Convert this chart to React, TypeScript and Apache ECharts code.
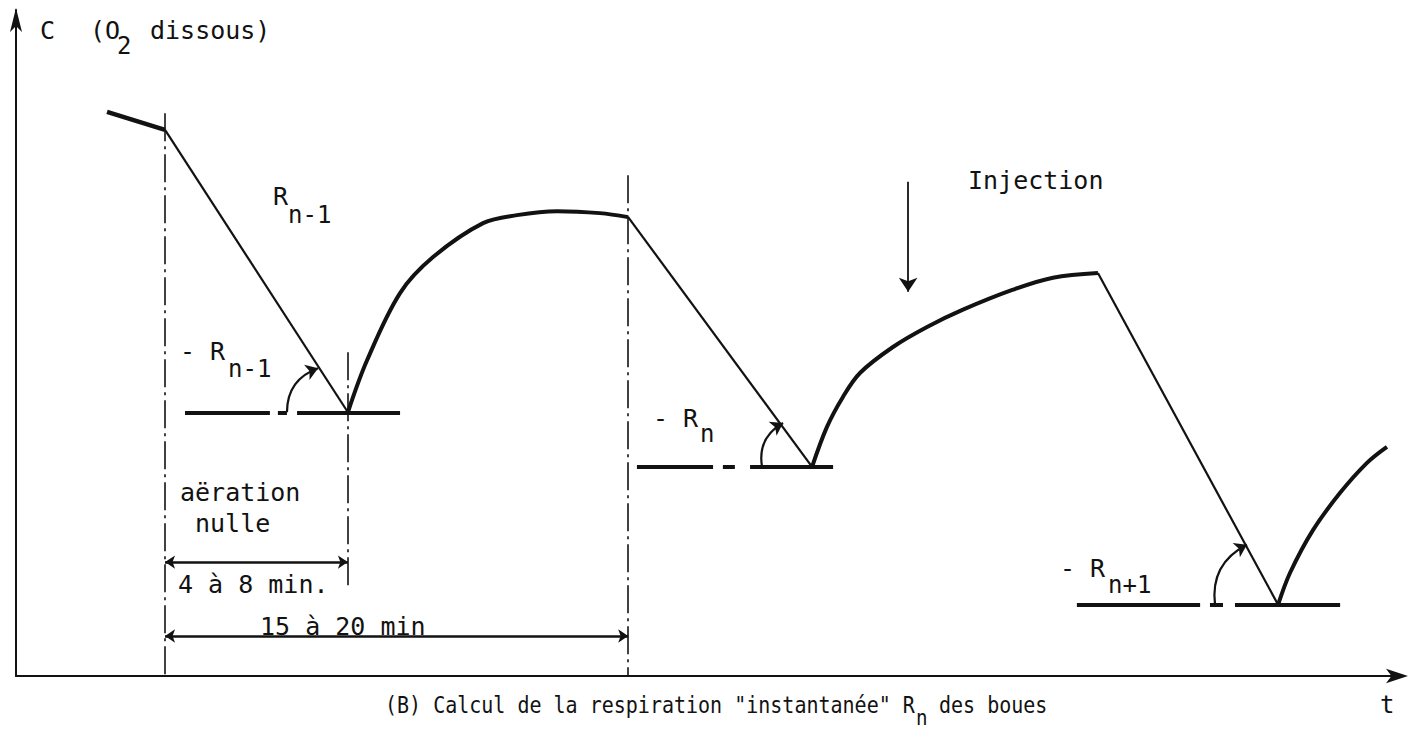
import React, { useEffect, useRef } from "react";
import * as echarts from "echarts";

// Axis ranges (t in minutes, C = dissolved O2)
const X_MAX = 52;
const Y_MAX = 10;

// Oxygen curve
const initialDecline = [[3.42, 8.47], [5.6, 8.2]];
const respirationDrops = [
  [[5.6, 8.2], [12.47, 3.96]],
  [[23.0, 6.89], [29.91, 3.14]],
  [[40.65, 6.05], [47.42, 1.07]],
];
const recovery1 = [
  [12.47, 3.96], [13.19, 4.74], [14.43, 5.75], [15.67, 6.29], [17.55, 6.8],
  [18.82, 6.92], [20.33, 6.98], [21.94, 6.95], [23.0, 6.89],
];
const recovery2 = [
  [29.91, 3.14], [30.47, 3.74], [31.07, 4.19], [31.71, 4.55], [32.95, 4.94],
  [34.23, 5.24], [35.58, 5.5], [37.46, 5.8], [38.96, 5.98], [40.65, 6.05],
];
const recovery3 = [
  [47.42, 1.07], [47.87, 1.55], [48.73, 2.19], [49.75, 2.75], [50.76, 3.2], [51.51, 3.44],
];

// Horizontal reference lines under each minimum
const slopeBaselines = [
  [[6.35, 3.96], [9.54, 3.96]], [[9.84, 3.96], [10.18, 3.96]], [[10.56, 3.96], [14.43, 3.96]],
  [[23.33, 3.14], [26.19, 3.14]], [[26.56, 3.14], [27.01, 3.14]], [[27.58, 3.14], [30.7, 3.14]],
  [[39.86, 1.07], [44.49, 1.07]], [[44.86, 1.07], [45.35, 1.07]], [[45.8, 1.07], [49.75, 1.07]],
];
// Angle arcs (slope marks)
const slopeArcs = [
  [[10.18, 3.96], [11.35, 4.62]],
  [[28.03, 3.14], [28.82, 3.8]],
  [[45.05, 1.07], [46.25, 1.97]],
];
// Dashed phase markers
const phaseMarkers = [
  [[5.6, 8.45], [5.6, 0]],
  [[12.47, 4.86], [12.47, 1.29]],
  [[23.0, 7.52], [23.0, 0]],
];
// Duration arrows
const durationArrows = [
  [[5.6, 1.71], [12.47, 1.71]],
  [[5.6, 0.6], [23.0, 0.6]],
];
const injectionArrow = [[33.52, 7.42], [33.52, 5.77]];

const INK = "#121212";
const FONT = '"DejaVu Sans Mono", monospace';

function txt(text: string, x: number, y: number, size = 25, scaleX = 1) {
  return {
    type: "text",
    x,
    y,
    scaleX,
    style: {
      text,
      fill: INK,
      font: `${size}px ${FONT}`,
      align: "left",
      verticalAlign: "middle",
    },
  };
}

export default function App() {
  const ref = useRef<HTMLDivElement>(null);

  useEffect(() => {
    if (!ref.current) return;
    const chart = echarts.init(ref.current, undefined, { renderer: "svg" });
    const seg = (arr: number[][][]) => arr.map((c) => ({ coords: c }));
    chart.setOption({
      animation: false,
      backgroundColor: "#ffffff",
      grid: { left: 16, right: 15, top: 10, bottom: 56, containLabel: false },
      xAxis: {
        type: "value",
        min: 0,
        max: X_MAX,
        axisLine: {
          show: true,
          lineStyle: { color: INK, width: 2 },
          symbol: ["none", "arrow"],
          symbolSize: [11, 22],
          symbolOffset: [0, 8],
        },
        axisTick: { show: false },
        axisLabel: { show: false },
        splitLine: { show: false },
      },
      yAxis: {
        type: "value",
        min: 0,
        max: Y_MAX,
        axisLine: {
          show: true,
          lineStyle: { color: INK, width: 2 },
          symbol: ["none", "arrow"],
          symbolSize: [9, 24],
          symbolOffset: [0, 2],
        },
        axisTick: { show: false },
        axisLabel: { show: false },
        splitLine: { show: false },
      },
      series: [
        {
          type: "line",
          data: initialDecline,
          showSymbol: false,
          lineStyle: { color: INK, width: 4.5 },
        },
        {
          type: "lines",
          coordinateSystem: "cartesian2d",
          data: seg(respirationDrops),
          lineStyle: { color: INK, width: 2.2, opacity: 1 },
        },
        ...[recovery1, recovery2, recovery3].map((d) => ({
          type: "line",
          data: d,
          showSymbol: false,
          smooth: 0.35,
          lineStyle: { color: INK, width: 4 },
        })),
        {
          type: "lines",
          coordinateSystem: "cartesian2d",
          data: seg(slopeBaselines),
          lineStyle: { color: INK, width: 4, opacity: 1 },
        },
        {
          type: "lines",
          coordinateSystem: "cartesian2d",
          data: seg(slopeArcs),
          symbol: ["none", "arrow"],
          symbolSize: 12,
          lineStyle: { color: INK, width: 2.2, opacity: 1, curveness: 0.35 },
        },
        {
          type: "lines",
          coordinateSystem: "cartesian2d",
          data: seg(phaseMarkers),
          lineStyle: { color: INK, width: 1.6, opacity: 1, type: [28, 5, 3, 5] },
        },
        {
          type: "lines",
          coordinateSystem: "cartesian2d",
          data: seg(durationArrows),
          symbol: ["arrow", "arrow"],
          symbolSize: 10,
          lineStyle: { color: INK, width: 2.6, opacity: 1 },
        },
        {
          type: "lines",
          coordinateSystem: "cartesian2d",
          data: [{ coords: injectionArrow }],
          symbol: ["none", "arrow"],
          symbolSize: 14,
          lineStyle: { color: INK, width: 1.8, opacity: 1 },
        },
      ],
      graphic: [
        txt("C", 40, 30),
        txt("(O", 90, 30),
        txt("2", 117, 46, 24),
        txt("dissous)", 150, 30),
        txt("R", 273, 196),
        txt("n-1", 288, 215, 24),
        txt("- R", 180, 351),
        txt("n-1", 228, 369, 24),
        txt("- R", 653, 418),
        txt("n", 700, 434, 24),
        txt("- R", 1060, 568),
        txt("n+1", 1108, 585, 24),
        txt("aëration", 180, 492),
        txt("nulle", 195, 523),
        txt("4 à 8 min.", 178, 584),
        txt("15 à 20 min", 260, 626),
        txt("Injection", 968, 180),
        txt('(B) Calcul de la respiration "instantanée" R', 385, 705, 23, 0.87),
        txt("n", 916, 718, 22, 0.87),
        txt("des boues", 939, 705, 23, 0.87),
        txt("t", 1380, 705, 24),
      ],
    });
    return () => chart.dispose();
  }, []);

  return (
    <div
      ref={ref}
      style={{ position: "fixed", left: 0, top: 0, width: 1415, height: 732, background: "#fff" }}
    />
  );
}
